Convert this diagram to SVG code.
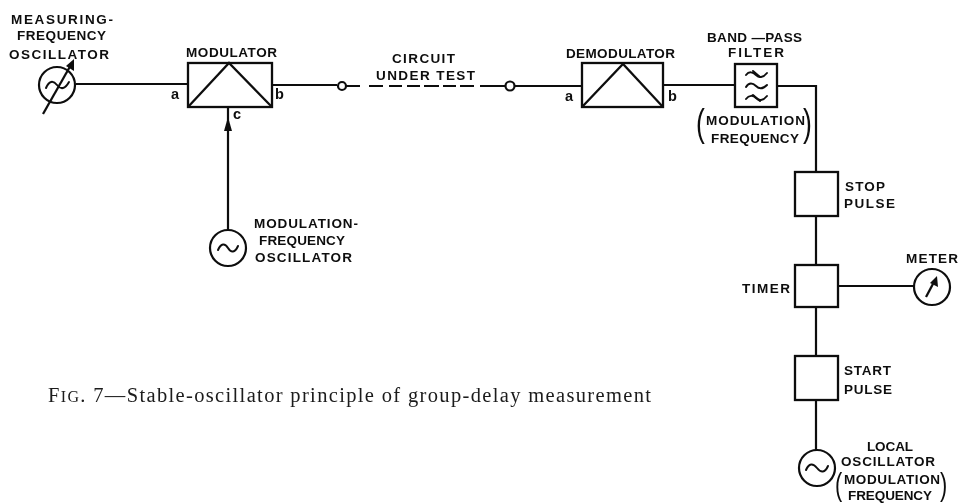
<svg xmlns="http://www.w3.org/2000/svg" width="960" height="503" viewBox="0 0 960 503">
<style>
.l{font-family:"Liberation Sans",Arial,sans-serif;font-weight:700;font-size:13.5px;fill:#111}
.s{font-family:"Liberation Sans",Arial,sans-serif;font-weight:700;font-size:14.5px;fill:#111}
.p{font-family:"Liberation Sans",Arial,sans-serif;font-weight:400;fill:#111}
.c{font-family:"Liberation Serif","Times New Roman",serif;font-size:20.5px;fill:#1a1a1a}
.b{fill:#fff;stroke:#111;stroke-width:2.3}
.o{fill:#fff;stroke:#111;stroke-width:2.2}
.t{fill:none;stroke:#111;stroke-width:2.3}
.w{fill:none;stroke:#111;stroke-width:2;stroke-linecap:round}
.n{fill:none;stroke:#111;stroke-width:2.2}
.k{fill:#111}
</style>
<defs>
<filter id="soft" x="0" y="0" width="100%" height="100%"><feGaussianBlur stdDeviation="0.45"/></filter>
</defs>
<rect width="960" height="503" fill="#fff"/>
<g filter="url(#soft)">
<g id="connectors">
<path class="n" d="M76 84H188M272 85H337"/>
<path class="n" d="M346 86H360M369 86H383M389 86H402M407 86H420M424 86H439M443 86H456M460 86H474M480 86H505"/>
<path class="n" d="M515 86H582M663 85H735M777 86H816V172M816 216V265M816 307V356M816 400V450M839 286H914"/>
<path class="n" d="M228 230V107"/>
<path class="k" d="M228 117L232 131H224Z"/>
</g>
<g id="measuring-oscillator">
<circle class="o" cx="57" cy="85" r="18"/>
<path class="w" d="M46 88C49 81 53 80 57 85C61 90 65 89 69 82"/>
<path class="t" d="M43 114L72 63"/>
<path class="k" d="M74 59L74 71L66 66Z"/>
<text class="l" x="11" y="24" textLength="102">MEASURING-</text>
<text class="l" x="17" y="40" textLength="89">FREQUENCY</text>
<text class="l" x="9" y="59" textLength="100">OSCILLATOR</text>
</g>
<g id="modulator">
<rect class="b" x="188" y="63" width="84" height="44"/>
<path class="t" d="M188 107L229 63L272 107"/>
<text class="l" x="186" y="57" textLength="91">MODULATOR</text>
<text class="s" x="171" y="99">a</text>
<text class="s" x="275" y="99">b</text>
<text class="s" x="233" y="119">c</text>
</g>
<g id="modulation-oscillator">
<circle class="o" cx="228" cy="248" r="18"/>
<path class="w" d="M218 250C221 243 225 243 228 248C231 253 235 253 238 246"/>
<text class="l" x="254" y="228" textLength="104">MODULATION-</text>
<text class="l" x="259" y="245" textLength="86">FREQUENCY</text>
<text class="l" x="255" y="262" textLength="97">OSCILLATOR</text>
</g>
<g id="circuit-under-test">
<circle class="o" cx="342" cy="86" r="4"/>
<circle class="o" cx="510" cy="86" r="4.5"/>
<text class="l" x="392" y="63" textLength="63">CIRCUIT</text>
<text class="l" x="376" y="80" textLength="99">UNDER TEST</text>
</g>
<g id="demodulator">
<rect class="b" x="582" y="63" width="81" height="44"/>
<path class="t" d="M582 107L623 64L663 107"/>
<text class="l" x="566" y="58" textLength="109">DEMODULATOR</text>
<text class="s" x="565" y="101">a</text>
<text class="s" x="668" y="101">b</text>
</g>
<g id="band-pass-filter">
<rect class="b" x="735" y="64" width="42" height="43"/>
<path class="w" d="M746 75C749 71 753 72 756 75C759 78 763 78 767 73M746 87C749 82 753 83 756 86C759 89 763 89 767 85M746 99C749 95 753 95 756 98C759 101 763 101 767 96"/>
<path class="w" d="M753 71L760 77M753 95L760 101"/>
<text class="l" x="707" y="42" textLength="95">BAND —PASS</text>
<text class="l" x="728" y="57" textLength="56">FILTER</text>
<text class="p" transform="translate(696 136) scale(.7 1)" font-size="38">(</text>
<text class="l" x="706" y="125" textLength="99">MODULATION</text>
<text class="l" x="711" y="143" textLength="88">FREQUENCY</text>
<text class="p" transform="translate(803 136) scale(.7 1)" font-size="38">)</text>
</g>
<g id="stop-pulse">
<rect class="b" x="795" y="172" width="43" height="44"/>
<text class="l" x="845" y="191" textLength="40">STOP</text>
<text class="l" x="844" y="208" textLength="51">PULSE</text>
</g>
<g id="timer">
<rect class="b" x="795" y="265" width="43" height="42"/>
<text class="l" x="742" y="293" textLength="48">TIMER</text>
</g>
<g id="meter">
<circle class="o" cx="932" cy="287" r="18"/>
<path class="t" d="M926 297L934 282"/>
<path class="k" d="M937 276L938 287L930 283Z"/>
<text class="l" x="906" y="263" textLength="52">METER</text>
</g>
<g id="start-pulse">
<rect class="b" x="795" y="356" width="43" height="44"/>
<text class="l" x="844" y="375" textLength="47">START</text>
<text class="l" x="844" y="394" textLength="48">PULSE</text>
</g>
<g id="local-oscillator">
<circle class="o" cx="817" cy="468" r="18"/>
<path class="w" d="M806 470C809 463 813 463 817 468C821 473 825 473 828 466"/>
<text class="l" x="867" y="451" textLength="46">LOCAL</text>
<text class="l" x="841" y="466" textLength="94">OSCILLATOR</text>
<text class="p" transform="translate(835 495) scale(.7 1)" font-size="31">(</text>
<text class="l" x="844" y="484" textLength="96">MODULATION</text>
<text class="l" x="848" y="500" textLength="84">FREQUENCY</text>
<text class="p" transform="translate(940 495) scale(.7 1)" font-size="31">)</text>
</g>
<g id="caption">
<text class="c" x="48" y="402" textLength="603">F<tspan font-size="16">IG</tspan>. 7—Stable-oscillator principle of group-delay measurement</text>
</g>
</g>
</svg>
